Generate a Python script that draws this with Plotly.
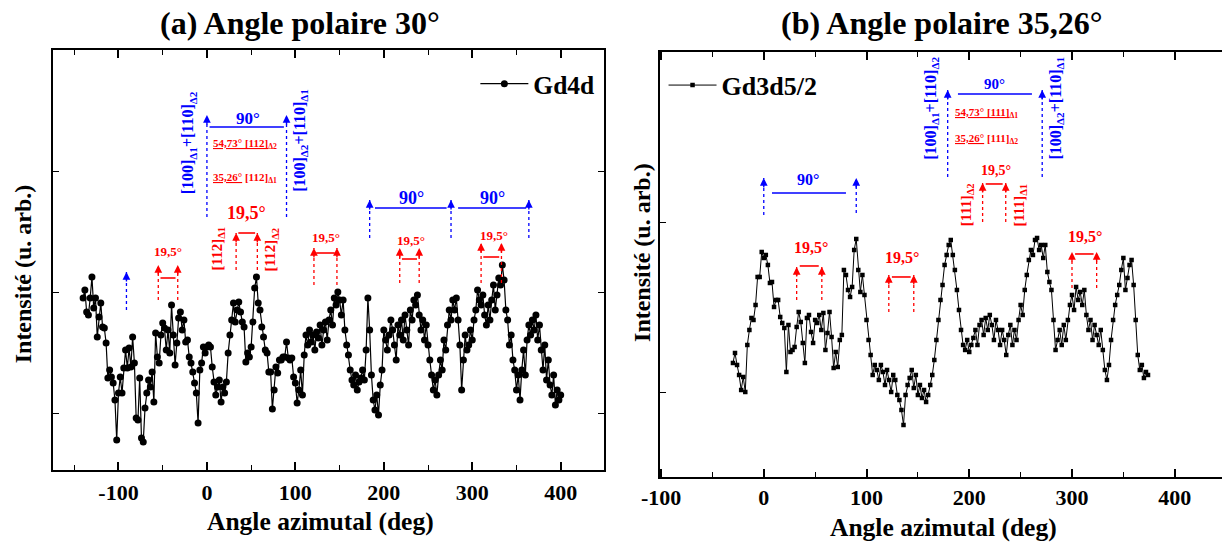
import plotly.graph_objects as go

FONT = "Liberation Serif"
BLUE = "#0000ff"
RED = "#ff0000"

# ---------------- data: panel (a) Gd4d, polar angle 30 deg ----------------
angle_a = [
    -140, -138, -136, -134, -132, -130, -128, -126, -124, -122, -120, -118, -116, -114, -112, -110,
    -108, -106, -104, -102, -100, -98, -96, -94, -92, -90, -88, -86, -84, -82, -80, -78, -76, -74,
    -72, -70, -68, -66, -64, -62, -60, -58, -56, -54, -52, -50, -48, -46, -44, -42, -40, -38, -36,
    -34, -32, -30, -28, -26, -24, -22, -20, -18, -16, -14, -12, -10, -8, -6, -4, -2, 0, 2, 4, 6, 8,
    10, 12, 14, 16, 18, 20, 22, 24, 26, 28, 30, 32, 34, 36, 38, 40, 42, 44, 46, 48, 50, 52, 54, 56,
    58, 60, 62, 64, 66, 68, 70, 72, 74, 76, 78, 80, 82, 84, 86, 88, 90, 92, 94, 96, 98, 100, 102,
    104, 106, 108, 110, 112, 114, 116, 118, 120, 122, 124, 126, 128, 130, 132, 134, 136, 138, 140,
    142, 144, 146, 148, 150, 152, 154, 156, 158, 160, 162, 164, 166, 168, 170, 172, 174, 176, 178,
    180, 182, 184, 186, 188, 190, 192, 194, 196, 198, 200, 202, 204, 206, 208, 210, 212, 214, 216,
    218, 220, 222, 224, 226, 228, 230, 232, 234, 236, 238, 240, 242, 244, 246, 248, 250, 252, 254,
    256, 258, 260, 262, 264, 266, 268, 270, 272, 274, 276, 278, 280, 282, 284, 286, 288, 290, 292,
    294, 296, 298, 300, 302, 304, 306, 308, 310, 312, 314, 316, 318, 320, 322, 324, 326, 328, 330,
    332, 334, 336, 338, 340, 342, 344, 346, 348, 350, 352, 354, 356, 358, 360, 362, 364, 366, 368,
    370, 372, 374, 376, 378, 380, 382, 384, 386, 388, 390, 392, 394, 396, 398, 400,
]
intensity_a = [
    172, 180, 158, 155, 172, 193, 162, 172, 133, 153, 167, 143, 142, 127, 92, 100,
    93, 87, 70, 30, 77, 93, 77, 102, 120, 102, 122, 103, 133, 107, 52, 50, 92, 32,
    28, 62, 77, 90, 83, 98, 68, 137, 113, 107, 135, 147, 142, 120, 140, 117, 165, 135, 105,
    127, 152, 158, 140, 150, 128, 130, 113, 107, 98, 87, 77, 47, 100, 107, 123, 117, 123, 125, 123, 103, 88,
    75, 83, 90, 68, 83, 77, 88, 117, 135, 150, 167, 148, 160, 168, 158, 148, 143, 108, 117, 113, 123, 148, 182, 193,
    167, 160, 143, 133, 120, 117, 98, 98, 61, 80, 103, 97, 110, 110, 113, 113, 128, 112, 110, 112, 93, 87, 67,
    80, 100, 75, 115, 135, 125, 140, 128, 135, 120, 138, 132, 145, 125, 140, 148, 130, 150, 160,
    145, 172, 165, 178, 170, 155, 170, 140, 125, 115, 100, 90, 85, 95, 80, 88, 92, 100, 90,
    120, 172, 140, 95, 70, 60, 75, 55, 85, 100, 140, 130, 120, 135, 150, 140, 125, 110, 145,
    135, 150, 130, 155, 140, 125, 160, 150, 170, 165, 175, 155, 140, 150, 130, 145, 125, 110, 95,
    80, 90, 75, 95, 110, 100, 130, 120, 145, 160, 150, 170, 160, 172, 150, 125, 80, 110, 135,
    120, 125, 140, 130, 150, 160, 180, 170, 165, 175, 155, 145, 165, 150, 170, 185, 160, 175, 192,
    185, 205, 190, 160, 150, 125, 135, 110, 100, 80, 95, 70, 100, 120, 95, 130, 145, 135, 150,
    140, 155, 130, 145, 120, 100, 125, 90, 110, 85, 75, 95, 65, 80, 70, 75,
]

# ---------------- data: panel (b) Gd3d5/2, polar angle 35,26 deg ----------------
angle_b = [
    -30, -28, -26, -24, -22, -20, -18, -16, -14, -12, -10, -8, -6, -4, -2, 0, 2, 4, 6, 8, 10, 12,
    14, 16, 18, 20, 22, 24, 26, 28, 30, 32, 34, 36, 38, 40, 42, 44, 46, 48, 50, 52, 54, 56, 58, 60,
    62, 64, 66, 68, 70, 72, 74, 76, 78, 80, 82, 84, 86, 88, 90, 92, 94, 96, 98, 100, 102, 104, 106,
    108, 110, 112, 114, 116, 118, 120, 122, 124, 126, 128, 130, 132, 134, 136, 138, 140, 142, 144,
    146, 148, 150, 152, 154, 156, 158, 160, 162, 164, 166, 168, 170, 172, 174, 176, 178, 180, 182,
    184, 186, 188, 190, 192, 194, 196, 198, 200, 202, 204, 206, 208, 210, 212, 214, 216, 218, 220,
    222, 224, 226, 228, 230, 232, 234, 236, 238, 240, 242, 244, 246, 248, 250, 252, 254, 256, 258,
    260, 262, 264, 266, 268, 270, 272, 274, 276, 278, 280, 282, 284, 286, 288, 290, 292, 294, 296,
    298, 300, 302, 304, 306, 308, 310, 312, 314, 316, 318, 320, 322, 324, 326, 328, 330, 332, 334,
    336, 338, 340, 342, 344, 346, 348, 350, 352, 354, 356, 358, 360, 362, 364, 366, 368, 370, 372, 374,
]
intensity_b = [
    114, 124, 112, 102, 87, 100, 85, 132, 147, 159, 157, 172, 200, 200, 225, 219, 222, 212, 194, 195, 170, 177,
    177, 160, 154, 149, 105, 152, 125, 127, 130, 150, 165, 155, 134, 114, 159, 162, 145, 134, 157, 154, 162, 147, 164, 127,
    144, 165, 140, 109, 125, 110, 137, 142, 207, 202, 187, 180, 190, 227, 238, 207, 185, 202, 182, 157, 137, 122, 102,
    112, 107, 97, 112, 105, 92, 107, 97, 85, 102, 97, 82, 77, 67, 52, 82, 92, 99, 107,
    89, 102, 82, 92, 79, 87, 75, 82, 92, 102, 117, 137, 157, 177, 192, 212, 222, 232, 237,
    222, 207, 187, 167, 147, 132, 127, 137, 125, 132, 139, 147, 132, 152, 157, 142, 159, 147, 162,
    152, 137, 157, 147, 132, 147, 137, 122, 142, 152, 132, 147, 137, 157, 172, 162, 187, 202, 217,
    227, 222, 237, 239, 227, 232, 219, 232, 205, 195, 187, 157, 127, 137, 147, 132, 152, 137, 157,
    172, 182, 167, 190, 177, 185, 172, 187, 162, 147, 157, 137, 152, 142, 132, 147, 127, 107, 97,
    112, 137, 157, 172, 182, 192, 207, 219, 187, 199, 212, 217, 192, 157, 122, 107, 112, 99, 105, 102,
]

# tick labels (plain hyphen minus as in the original)
tick_vals = [-100, 0, 100, 200, 300, 400]
tick_text = ["-100", "0", "100", "200", "300", "400"]

# ---------------- annotation positions (angle deg, intensity a.u.) ----------------
# panel (a)
a_blue_x = [-91, 0, 90, 184, 276, 364]
a_blue_bottom = [160, 253, 253, 232, 232, 232]
a_blue_head = [198, 355, 355, 270, 270, 270]
a_blue_span = [(3, 87, 343, 46, 352, 17), (190, 271, 262, 231, 272, 18), (284, 361, 262, 323, 272, 18)]
a_red_pairs = [  # x1, x2, bottom, head, bar_y, text_x, text_y, font
    (-55, -33, 170, 205, 192, -44, 219, 13),
    (33, 57, 200, 237, 237, 45, 257, 18),
    (121, 147, 185, 222, 217, 135, 233, 13),
    (218, 240, 187, 222, 211, 231, 230, 13),
    (310, 333, 187, 227, 213, 325, 235, 13),
]
# panel (b)
b_blue_x = [0, 90, 179, 271]
b_blue_bottom = [262, 264, 300, 300]
b_blue_head = [299, 299, 387, 387]
b_blue_span = [(8, 80, 284, 43, 297, 16), (189, 261, 383, 225, 393, 15)]
b_red_pairs = [
    (32, 56.5, 177, 210, 211, 46, 229, 16),
    (121.7, 146, 165, 202, 200, 135, 219, 16),
    (300, 324, 189, 225, 223, 313, 240, 16),
    (213, 235.5, 255, 294, 293, 226, 306, 14),
]

shapes = []
annotations = []


def arrow(xr, yr, x, y0, y1, color):
    shapes.append(dict(type="line", xref=xr, yref=yr, x0=x, x1=x, y0=y0, y1=y1,
                       line=dict(color=color, width=1.3, dash="dot")))
    annotations.append(dict(xref=xr, yref=yr, x=x, y=y1, ax=0, ay=11, text="",
                            showarrow=True, arrowhead=2, arrowsize=1.1, arrowwidth=1.4,
                            arrowcolor=color))


def hbar(xr, yr, x0, x1, y, color):
    shapes.append(dict(type="line", xref=xr, yref=yr, x0=x0, x1=x1, y0=y, y1=y,
                       line=dict(color=color, width=1.6)))


def label(xr, yr, x, y, text, color, size, angle=0, xanchor="center"):
    annotations.append(dict(xref=xr, yref=yr, x=x, y=y, text="<b>" + text + "</b>",
                            showarrow=False, textangle=angle, xanchor=xanchor, yanchor="middle",
                            font=dict(family=FONT, size=size, color=color)))


# panel (a) annotations
for x, y0, y1 in zip(a_blue_x, a_blue_bottom, a_blue_head):
    arrow("x", "y", x, y0, y1, BLUE)
for x0, x1, y, tx, ty, fs in a_blue_span:
    hbar("x", "y", x0, x1, y, BLUE)
    label("x", "y", tx, ty, "90°", BLUE, fs)
for x1, x2, y0, y1, by, tx, ty, fs in a_red_pairs:
    arrow("x", "y", x1, y0, y1, RED)
    arrow("x", "y", x2, y0, y1, RED)
    hbar("x", "y", x1 + 2.5, x2 - 2.5, by, RED)
    label("x", "y", tx, ty, "19,5°", RED, fs)
label("x", "y", -21, 327, "[100]<sub>Δ1</sub>+[110]<sub>Δ2</sub>", BLUE, 16, -90)
label("x", "y", 105, 330, "[100]<sub>Δ2</sub>+[110]<sub>Δ1</sub>", BLUE, 16, -90)
label("x", "y", 12, 221, "[112]<sub>Δ1</sub>", RED, 15, -90)
label("x", "y", 73, 221, "[112]<sub>Δ2</sub>", RED, 15, -90)
label("x", "y", 5, 326, "<u>54,73° [112]</u><sub>Δ2</sub>", RED, 11, 0, "left")
label("x", "y", 5, 292, "<u>35,26°</u> [112]<sub>Δ1</sub>", RED, 11, 0, "left")

# panel (b) annotations
for x, y0, y1 in zip(b_blue_x, b_blue_bottom, b_blue_head):
    arrow("x2", "y2", x, y0, y1, BLUE)
for x0, x1, y, tx, ty, fs in b_blue_span:
    hbar("x2", "y2", x0, x1, y, BLUE)
    label("x2", "y2", tx, ty, "90°", BLUE, fs)
for x1, x2, y0, y1, by, tx, ty, fs in b_red_pairs:
    arrow("x2", "y2", x1, y0, y1, RED)
    arrow("x2", "y2", x2, y0, y1, RED)
    hbar("x2", "y2", x1 + 3, x2 - 3, by, RED)
    label("x2", "y2", tx, ty, "19,5°", RED, fs)
label("x2", "y2", 163.5, 369, "[100]<sub>Δ1</sub>+[110]<sub>Δ2</sub>", BLUE, 16, -90)
label("x2", "y2", 285, 369, "[100]<sub>Δ2</sub>+[110]<sub>Δ1</sub>", BLUE, 16, -90)
label("x2", "y2", 198, 272, "[111]<sub>Δ2</sub>", RED, 15, -90)
label("x2", "y2", 249, 272, "[111]<sub>Δ1</sub>", RED, 15, -90)
label("x2", "y2", 184, 364, "<u>54,73° [111]</u><sub>Δ1</sub>", RED, 11, 0, "left")
label("x2", "y2", 184, 338, "<u>35,26°</u> [111]<sub>Δ2</sub>", RED, 11, 0, "left")

# titles
label("paper", "paper", 0.2455, 0.958, "(a) Angle polaire 30°", "black", 32)
label("paper", "paper", 0.771, 0.958, "(b) Angle polaire 35,26°", "black", 32)
label("paper", "paper", 0.262, 0.044, "Angle azimutal (deg)", "black", 25.5)
label("paper", "paper", 0.7725, 0.033, "Angle azimutal (deg)", "black", 25.5)
label("paper", "paper", 0.019, 0.498, "Intensité (u. arb.)", "black", 24, -90)
label("paper", "paper", 0.5255, 0.537, "Intensité (u. arb.)", "black", 24, -90)

fig = go.Figure()
fig.add_trace(go.Scatter(x=angle_a, y=intensity_a, mode="lines+markers", name="<b>Gd4d</b>",
                         line=dict(color="black", width=1.2),
                         marker=dict(symbol="circle", size=7, color="black"),
                         xaxis="x", yaxis="y", legend="legend"))
fig.add_trace(go.Scatter(x=angle_b, y=intensity_b, mode="lines+markers", name="<b>Gd3d5/2</b>",
                         line=dict(color="black", width=1),
                         marker=dict(symbol="square", size=4.5, color="black"),
                         xaxis="x2", yaxis="y2", legend="legend2"))

xcommon = dict(showline=True, linecolor="black", linewidth=1.6, mirror="allticks",
               ticks="inside", ticklen=8, tickwidth=1.5, tickcolor="black",
               tickmode="array", tickvals=tick_vals, ticktext=tick_text,
               showgrid=False, zeroline=False,
               tickfont=dict(family=FONT, size=22, color="black", weight="bold"),
               minor=dict(ticks="inside", ticklen=5, tickwidth=1.3, tickcolor="black",
                          tickmode="linear", tick0=-150, dtick=100, showgrid=False))

fig.update_layout(
    width=1222, height=546,
    margin=dict(l=0, r=0, t=0, b=0, autoexpand=False),
    paper_bgcolor="white", plot_bgcolor="white",
    xaxis=dict(domain=[0.0434, 0.4943], range=[-174, 449], anchor="y", ticklabelstandoff=2,
               automargin=False, **xcommon),
    yaxis=dict(domain=[0.1392, 0.9084], range=[0, 420], anchor="x", showline=True, linecolor="black",
               linewidth=1.6, mirror="allticks", ticks="inside", ticklen=6, tickwidth=1.3,
               tickcolor="black", tick0=57, dtick=121, showticklabels=False, showgrid=False,
               zeroline=False, automargin=False),
    xaxis2=dict(domain=[0.5401, 1.0], range=[-101, 446], anchor="y2", ticklabelstandoff=0,
                automargin=False, **xcommon),
    yaxis2=dict(domain=[0.1264, 0.9048], range=[0, 425], anchor="x2", showline=True, linecolor="black",
                linewidth=1.6, mirror=False, ticks="inside", ticklen=6, tickwidth=1.3,
                tickcolor="black", tick0=84, dtick=170, showticklabels=False, showgrid=False,
                zeroline=False, automargin=False),
    legend=dict(x=0.389, y=0.846, xanchor="left", yanchor="middle", bgcolor="rgba(0,0,0,0)",
                itemwidth=48, font=dict(family=FONT, size=25.5, color="black")),
    legend2=dict(x=0.543, y=0.844, xanchor="left", yanchor="middle", bgcolor="rgba(0,0,0,0)",
                 itemwidth=48, font=dict(family=FONT, size=26, color="black")),
    shapes=shapes,
    annotations=annotations,
    showlegend=True,
)

fig.write_html("out.html", config={"displayModeBar": False},
               post_script="document.body.style.margin='0';")
